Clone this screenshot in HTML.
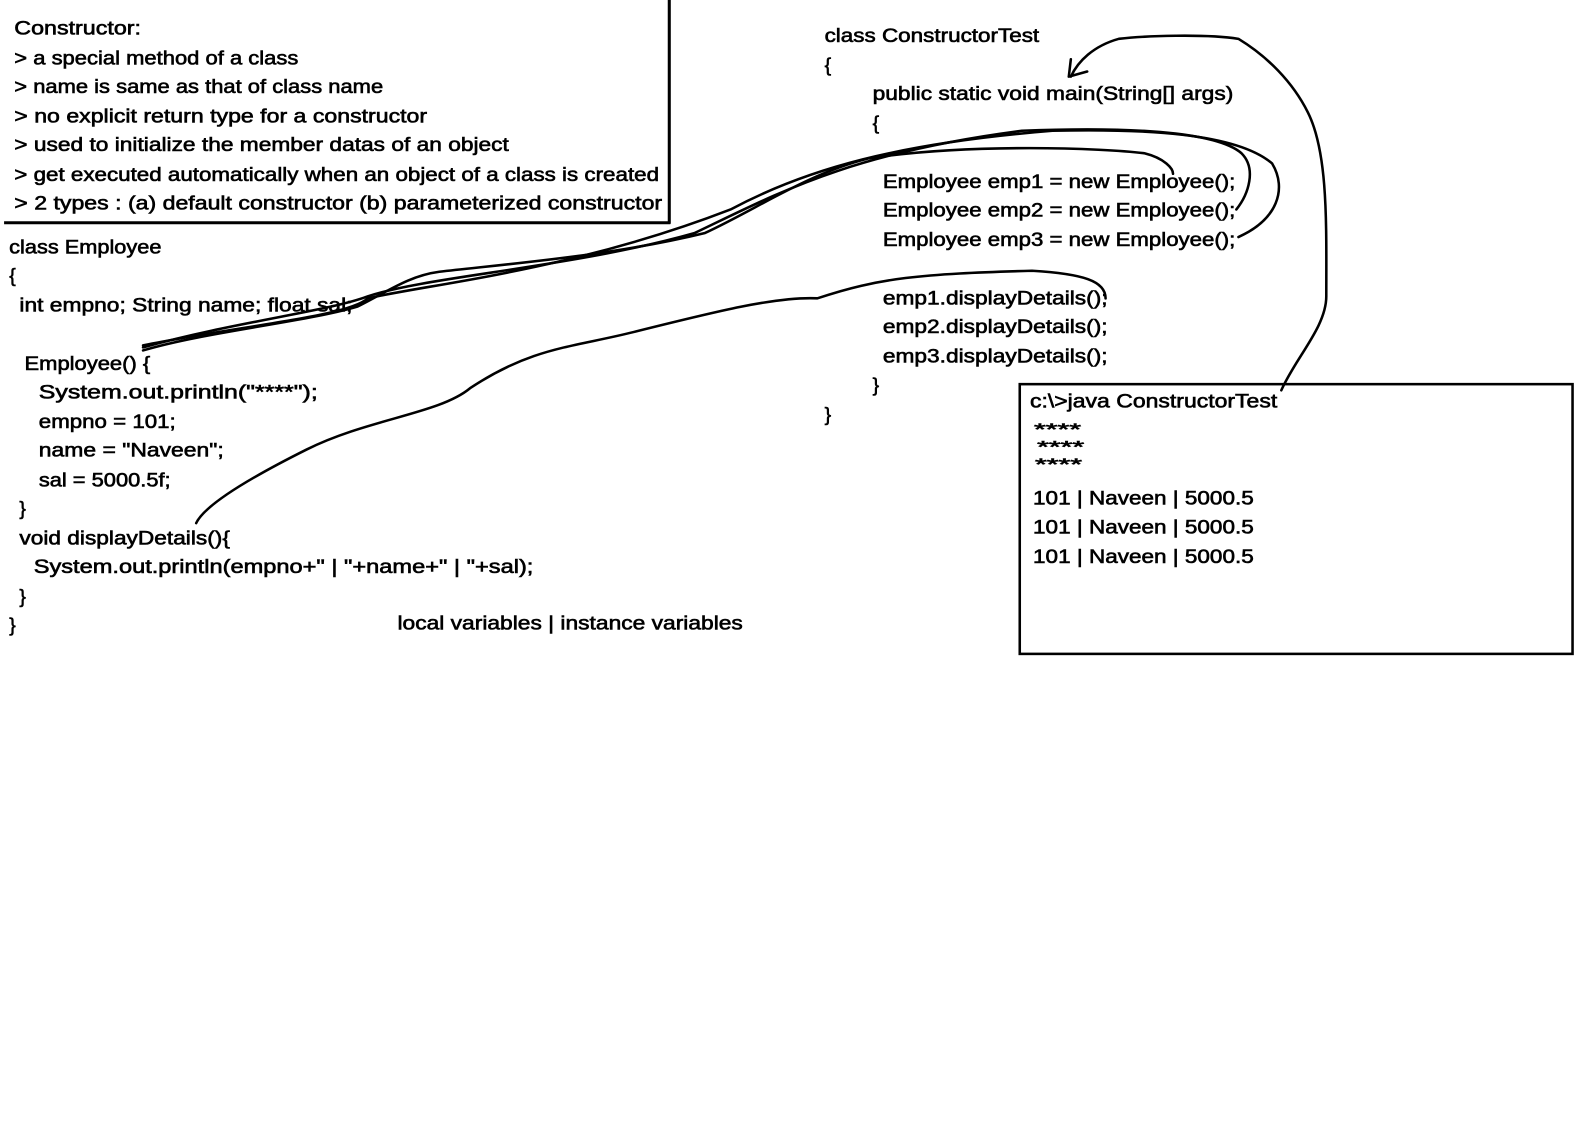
<!DOCTYPE html>
<html><head><meta charset="utf-8"><style>
html,body{margin:0;padding:0;background:#fff;width:1594px;height:1130px;overflow:hidden}
svg{display:block}
text{font-family:"Liberation Sans",sans-serif;font-size:19px;fill:#000;stroke:#000;stroke-width:0.6}
</style></head><body>
<svg width="1594" height="1130" viewBox="0 0 1560 1106" preserveAspectRatio="none" xmlns="http://www.w3.org/2000/svg">
<g fill="none" stroke="#000" stroke-width="3">
<line x1="655" y1="0" x2="655" y2="219"/>
<line x1="4" y1="218" x2="656" y2="218"/>
<rect x="998" y="376" width="541" height="264" stroke-width="2.5"/>
</g>
<g fill="none" stroke="#000" stroke-width="2.5" stroke-linejoin="round" stroke-linecap="round">
<path d="M1254,382 C1268,350 1298,320 1298,290 C1298,220 1300,150 1280,110 C1265,80 1240,55 1212,38 C1180,33 1120,35 1095,38 C1070,45 1055,60 1048,75"/>
<path d="M1046,75 L1064,70 M1046,75 L1048,58"/>
<path d="M140,343 C200,325 300,315 350,300 C380,285 400,270 430,266 C500,258 600,250 690,228 C740,205 790,170 850,155 C950,140 1080,145 1120,150 C1140,155 1148,165 1148,170"/>
<path d="M140,340 C230,315 320,305 360,290 C420,270 560,262 680,228 C760,190 830,150 1000,128 C1100,124 1190,128 1215,150 C1230,165 1222,190 1210,205"/>
<path d="M140,338 C240,318 340,310 360,292 C420,278 560,265 715,205 C790,165 880,140 1030,128 C1120,126 1210,130 1245,160 C1260,185 1250,215 1212,232"/>
<path d="M192,512 C200,495 240,470 300,440 C360,410 430,405 460,380 C520,340 560,340 620,325 C700,305 760,290 800,292 C860,272 900,268 1010,265 C1060,268 1082,275 1082,292"/>
</g>
<g>
<text x="14" y="34" textLength="124" lengthAdjust="spacingAndGlyphs">Constructor:</text>
<text x="14" y="63" textLength="278" lengthAdjust="spacingAndGlyphs">&gt; a special method of a class</text>
<text x="14" y="91" textLength="361" lengthAdjust="spacingAndGlyphs">&gt; name is same as that of class name</text>
<text x="14" y="120" textLength="404" lengthAdjust="spacingAndGlyphs">&gt; no explicit return type for a constructor</text>
<text x="14" y="148" textLength="484" lengthAdjust="spacingAndGlyphs">&gt; used to initialize the member datas of an object</text>
<text x="14" y="177" textLength="631" lengthAdjust="spacingAndGlyphs">&gt; get executed automatically when an object of a class is created</text>
<text x="14" y="205" textLength="634" lengthAdjust="spacingAndGlyphs">&gt; 2 types : (a) default constructor   (b) parameterized constructor</text>
<text x="9" y="248" textLength="149" lengthAdjust="spacingAndGlyphs">class Employee</text>
<text x="9" y="276">{</text>
<text x="19" y="305" textLength="326" lengthAdjust="spacingAndGlyphs">int empno;  String name; float sal;</text>
<text x="24" y="362" textLength="123" lengthAdjust="spacingAndGlyphs">Employee() {</text>
<text x="38" y="390" textLength="273" lengthAdjust="spacingAndGlyphs">System.out.println("****");</text>
<text x="38" y="419" textLength="134" lengthAdjust="spacingAndGlyphs">empno = 101;</text>
<text x="38" y="447" textLength="181" lengthAdjust="spacingAndGlyphs">name = "Naveen";</text>
<text x="38" y="476" textLength="129" lengthAdjust="spacingAndGlyphs">sal = 5000.5f;</text>
<text x="19" y="504">}</text>
<text x="19" y="533" textLength="206" lengthAdjust="spacingAndGlyphs">void displayDetails(){</text>
<text x="33" y="561" textLength="489" lengthAdjust="spacingAndGlyphs">System.out.println(empno+" | "+name+" | "+sal);</text>
<text x="19" y="590">}</text>
<text x="9" y="618">}</text>
<text x="389" y="616" textLength="338" lengthAdjust="spacingAndGlyphs">local variables | instance variables</text>
<text x="807" y="41" textLength="210" lengthAdjust="spacingAndGlyphs">class ConstructorTest</text>
<text x="807" y="70">{</text>
<text x="854" y="98" textLength="353" lengthAdjust="spacingAndGlyphs">public static void main(String[] args)</text>
<text x="854" y="127">{</text>
<text x="864" y="184" textLength="345" lengthAdjust="spacingAndGlyphs">Employee emp1 = new Employee();</text>
<text x="864" y="212" textLength="345" lengthAdjust="spacingAndGlyphs">Employee emp2 = new Employee();</text>
<text x="864" y="241" textLength="345" lengthAdjust="spacingAndGlyphs">Employee emp3 = new Employee();</text>
<text x="864" y="298" textLength="220" lengthAdjust="spacingAndGlyphs">emp1.displayDetails();</text>
<text x="864" y="326" textLength="220" lengthAdjust="spacingAndGlyphs">emp2.displayDetails();</text>
<text x="864" y="355" textLength="220" lengthAdjust="spacingAndGlyphs">emp3.displayDetails();</text>
<text x="854" y="383">}</text>
<text x="807" y="412">}</text>
<text x="1008" y="399" textLength="242" lengthAdjust="spacingAndGlyphs">c:\&gt;java ConstructorTest</text>
<text x="1012" y="426" style="font-size:16px" textLength="46" lengthAdjust="spacingAndGlyphs">****</text>
<text x="1015" y="443" style="font-size:16px" textLength="46" lengthAdjust="spacingAndGlyphs">****</text>
<text x="1013" y="460" style="font-size:16px" textLength="46" lengthAdjust="spacingAndGlyphs">****</text>
<text x="1011" y="494" textLength="216" lengthAdjust="spacingAndGlyphs">101 | Naveen | 5000.5</text>
<text x="1011" y="522" textLength="216" lengthAdjust="spacingAndGlyphs">101 | Naveen | 5000.5</text>
<text x="1011" y="551" textLength="216" lengthAdjust="spacingAndGlyphs">101 | Naveen | 5000.5</text>
</g>
</svg>
</body></html>
